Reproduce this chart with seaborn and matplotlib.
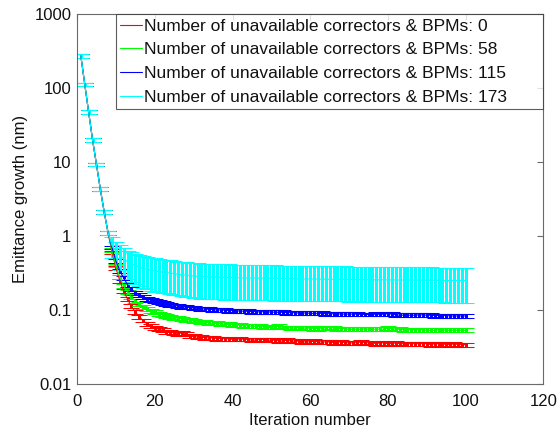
import numpy as np
import pandas as pd
import seaborn as sns
import matplotlib
matplotlib.use('Agg')
import matplotlib.pyplot as plt

# values (iterations 1..100)
iterations = list(range(1, 101))

# first 8 iterations: all cases coincide
early = [270, 112, 47, 20, 9.3, 4.3, 2.1, 1.1]

red_tail = [0.60, 0.37, 0.25, 0.18, 0.14, 0.112, 0.094, 0.081, 0.072, 0.065,
            0.060, 0.057, 0.055, 0.053, 0.051, 0.050, 0.049, 0.048, 0.049, 0.047,
            0.045, 0.044, 0.043, 0.043, 0.042, 0.042, 0.042, 0.041, 0.041, 0.041,
            0.041, 0.040, 0.040, 0.041, 0.040, 0.040, 0.039, 0.039, 0.040, 0.040,
            0.039, 0.039, 0.039, 0.038, 0.038, 0.039, 0.038, 0.038, 0.038, 0.037,
            0.037, 0.037, 0.038, 0.037, 0.037, 0.037, 0.037, 0.036, 0.037, 0.037,
            0.036, 0.036, 0.036, 0.036, 0.037, 0.036, 0.036, 0.036, 0.035, 0.036,
            0.036, 0.035, 0.035, 0.036, 0.035, 0.035, 0.035, 0.035, 0.035, 0.035,
            0.035, 0.035, 0.034, 0.035, 0.035, 0.035, 0.034, 0.034, 0.035, 0.034,
            0.034, 0.034]

green_tail = [0.65, 0.40, 0.28, 0.21, 0.175, 0.150, 0.132, 0.119, 0.109, 0.102,
              0.097, 0.093, 0.089, 0.086, 0.083, 0.081, 0.079, 0.077, 0.076, 0.074,
              0.073, 0.071, 0.070, 0.069, 0.068, 0.067, 0.066, 0.066, 0.065, 0.064,
              0.064, 0.063, 0.063, 0.062, 0.061, 0.061, 0.060, 0.060, 0.060, 0.059,
              0.059, 0.058, 0.059, 0.060, 0.058, 0.058, 0.057, 0.057, 0.058, 0.057,
              0.057, 0.057, 0.056, 0.056, 0.057, 0.057, 0.058, 0.057, 0.056, 0.056,
              0.056, 0.055, 0.055, 0.055, 0.055, 0.056, 0.055, 0.055, 0.055, 0.055,
              0.055, 0.057, 0.056, 0.055, 0.055, 0.054, 0.054, 0.054, 0.054, 0.054,
              0.054, 0.053, 0.053, 0.053, 0.054, 0.054, 0.053, 0.053, 0.053, 0.053,
              0.053, 0.053]

blue_tail = [0.70, 0.46, 0.34, 0.27, 0.22, 0.19, 0.172, 0.158, 0.148, 0.141,
             0.136, 0.131, 0.127, 0.123, 0.120, 0.117, 0.115, 0.113, 0.111, 0.109,
             0.108, 0.106, 0.105, 0.104, 0.103, 0.102, 0.101, 0.100, 0.100, 0.099,
             0.098, 0.098, 0.097, 0.097, 0.096, 0.096, 0.095, 0.095, 0.094, 0.095,
             0.094, 0.094, 0.093, 0.093, 0.093, 0.092, 0.092, 0.092, 0.091, 0.091,
             0.091, 0.090, 0.090, 0.090, 0.090, 0.089, 0.089, 0.089, 0.089, 0.088,
             0.088, 0.088, 0.088, 0.088, 0.087, 0.087, 0.087, 0.087, 0.088, 0.087,
             0.088, 0.089, 0.088, 0.086, 0.085, 0.085, 0.085, 0.085, 0.085, 0.086,
             0.086, 0.085, 0.085, 0.084, 0.084, 0.084, 0.084, 0.083, 0.083, 0.083,
             0.083, 0.083]

cyan_tail = [0.74, 0.62, 0.55, 0.49, 0.45, 0.42, 0.40, 0.38, 0.365, 0.355,
             0.345, 0.337, 0.330, 0.325, 0.320, 0.316, 0.310, 0.305, 0.300, 0.296,
             0.292, 0.288, 0.285, 0.283, 0.281, 0.280, 0.279, 0.278, 0.277, 0.276,
             0.275, 0.274, 0.273, 0.272, 0.272, 0.271, 0.271, 0.270, 0.270, 0.269,
             0.268, 0.268, 0.267, 0.266, 0.266, 0.265, 0.264, 0.264, 0.263, 0.263,
             0.262, 0.262, 0.262, 0.261, 0.261, 0.260, 0.260, 0.260, 0.259, 0.259,
             0.259, 0.258, 0.258, 0.258, 0.257, 0.257, 0.257, 0.256, 0.256, 0.256,
             0.256, 0.255, 0.255, 0.255, 0.254, 0.254, 0.254, 0.253, 0.253, 0.253,
             0.252, 0.252, 0.252, 0.251, 0.251, 0.251, 0.250, 0.250, 0.250, 0.250,
             0.250, 0.250]

cyan_err_tail = [0.23, 0.21, 0.20, 0.19, 0.185, 0.18, 0.175, 0.17, 0.168, 0.165,
                 0.162, 0.160, 0.157, 0.155, 0.153, 0.151, 0.149, 0.147, 0.146, 0.145,
                 0.144, 0.143, 0.142, 0.141, 0.140, 0.140, 0.139, 0.139, 0.138, 0.138,
                 0.137, 0.137, 0.136, 0.136, 0.135, 0.135, 0.135, 0.134, 0.134, 0.134,
                 0.133, 0.133, 0.133, 0.132, 0.132, 0.132, 0.131, 0.131, 0.131, 0.130,
                 0.130, 0.130, 0.130, 0.129, 0.129, 0.129, 0.129, 0.128, 0.128, 0.128,
                 0.128, 0.128, 0.127, 0.127, 0.127, 0.127, 0.127, 0.126, 0.126, 0.126,
                 0.126, 0.126, 0.126, 0.126, 0.125, 0.125, 0.125, 0.125, 0.125, 0.125,
                 0.125, 0.125, 0.125, 0.124, 0.124, 0.124, 0.124, 0.124, 0.124, 0.124,
                 0.124, 0.124]

# relative spread of the narrow cases (about 6 %)
rel_err = 0.06

unavailable = [0, 58, 115, 173]
colors = ['#ff0000', '#00ff00', '#0000ff', '#00ffff']

means = [early + red_tail, early + green_tail, early + blue_tail, early + cyan_tail]
errs = [[v * rel_err for v in m] for m in means[:3]]
errs.append([v * rel_err for v in early] + cyan_err_tail)

labels = ['Number of unavailable correctors & BPMs: %d' % n for n in unavailable]

rows = []
for lab, m in zip(labels, means):
    for it, v in zip(iterations, m):
        rows.append((it, v, lab))
df = pd.DataFrame(rows, columns=['iteration', 'emittance', 'case'])

sns.set_theme(style='white')
plt.rcParams['font.family'] = ['Liberation Sans', 'DejaVu Sans']
plt.rcParams['axes.edgecolor'] = '#6a6a6a'
plt.rcParams['axes.linewidth'] = 0.8

fig = plt.figure(figsize=(5.58, 4.28), dpi=100)
ax = fig.add_axes([0.138, 0.103, 0.836, 0.864])

# crisp, non-smoothed error bars like the original export
for lab, m, e, c in zip(labels, means, errs, colors):
    eb = ax.errorbar(iterations, m, yerr=e, fmt='none', ecolor=c, elinewidth=0.75,
                     capsize=5.5, capthick=0.75)
    for cap in eb[1]:
        cap.set_antialiased(False)
    for col in eb[2]:
        col.set_antialiased(False)
sns.lineplot(data=df, x='iteration', y='emittance', hue='case', palette=colors,
             linewidth=0.8, ax=ax)

ax.set_yscale('log')
ax.set_ylim(0.01, 1000)
ax.set_xlim(0, 120)
ax.set_xticks(range(0, 121, 20))
ax.set_yticks([0.01, 0.1, 1, 10, 100, 1000])
ax.set_yticklabels(['0.01', '0.1', '1', '10', '100', '1000'])
ax.minorticks_off()
ax.tick_params(direction='in', top=True, right=True, length=4, width=0.8,
               color='#6a6a6a', labelsize=12, labelcolor='#111111', pad=4)
ax.tick_params(axis='x', pad=7)
ax.set_xlabel('Iteration number', fontsize=12, labelpad=3, color='#111111')
ax.set_ylabel('Emittance growth (nm)', fontsize=12, labelpad=5, color='#111111')

# legend stretched to the right edge of the axes, as in the original
leg = ax.legend(loc='upper left', bbox_to_anchor=(0.083, 0.0, 0.917, 1.0),
                mode='expand', borderaxespad=0, fontsize=12.5, frameon=True,
                fancybox=False, handlelength=1.25, handletextpad=0.15,
                labelspacing=0.5, borderpad=0.25)
leg.get_frame().set_edgecolor('#333333')
leg.get_frame().set_linewidth(0.8)
for h in leg.get_lines():
    h.set_linewidth(0.8)
for t in leg.get_texts():
    t.set_color('#111111')

fig.savefig('out.png', dpi=100)
